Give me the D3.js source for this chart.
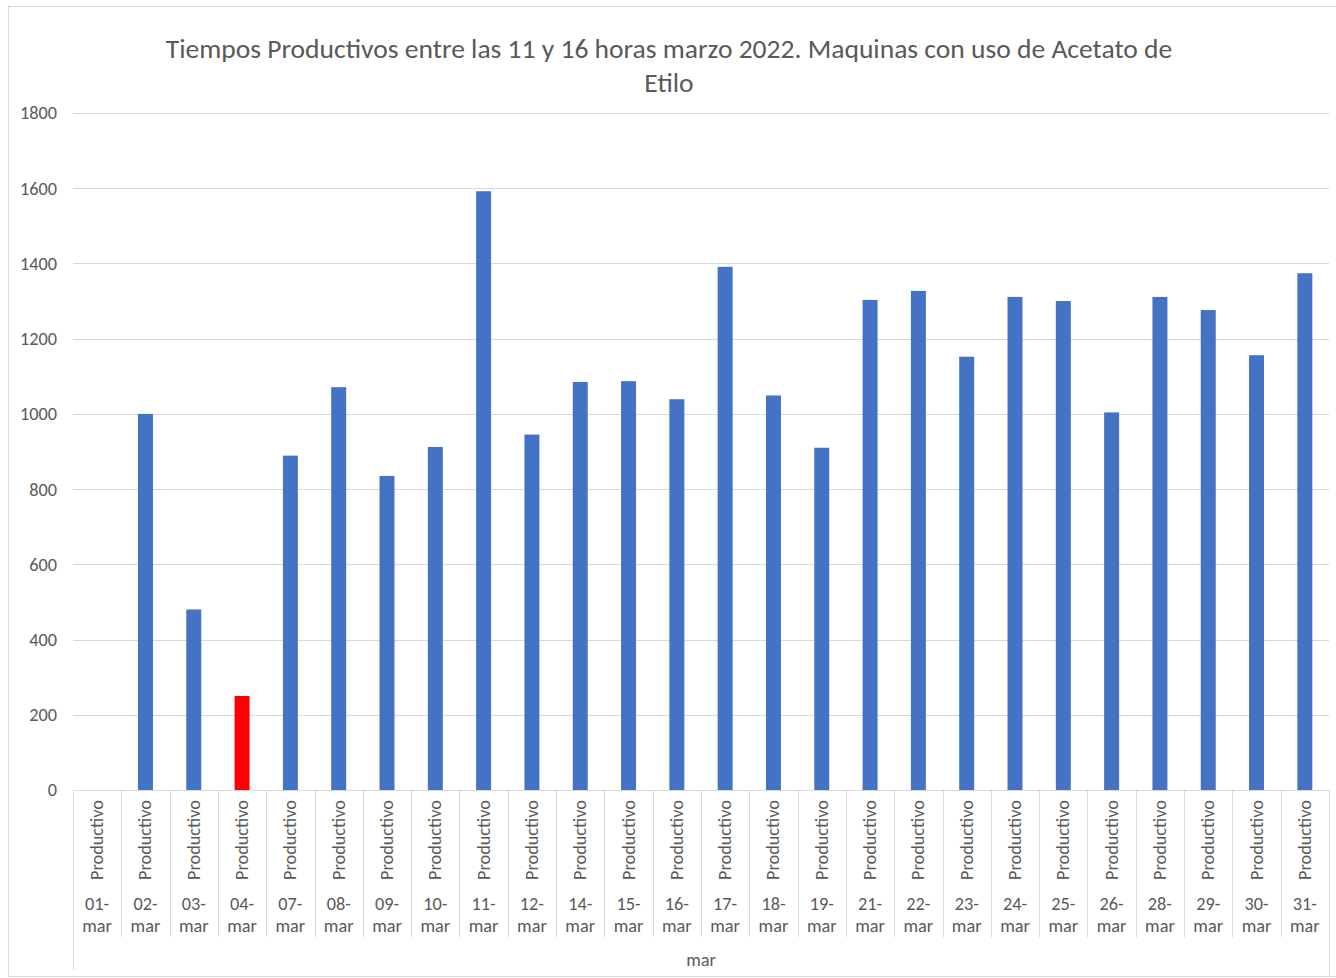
<!DOCTYPE html>
<html><head><meta charset="utf-8">
<script src="https://cdn.jsdelivr.net/npm/d3@7"></script>
<style>body{margin:0;background:#fff}svg{display:block}</style>
</head><body>
<svg id="c" width="1336" height="978"></svg>
<script>
const categories = ["01-mar","02-mar","03-mar","04-mar","07-mar","08-mar","09-mar","10-mar","11-mar","12-mar","14-mar","15-mar","16-mar","17-mar","18-mar","19-mar","21-mar","22-mar","23-mar","24-mar","25-mar","26-mar","28-mar","29-mar","30-mar","31-mar"];
const values = [0,1000,480,250,889,1071,835,912,1592,945,1085,1087,1039,1391,1049,910,1303,1327,1152,1311,1300,1004,1311,1276,1156,1374];
const highlight = ["04-mar"];
const subLabel = "Productivo";
const groupLabel = "mar";
const yTicks = [0,200,400,600,800,1000,1200,1400,1600,1800];
const titleLines = ["Tiempos Productivos entre las 11 y 16 horas marzo 2022. Maquinas con uso de Acetato de","Etilo"];

const svg = d3.select("#c");
const font = "Carlito, 'Open Sans', 'Liberation Sans', sans-serif";
const txt = "#595959", grid = "#d9d9d9";
const L = 73, R = 1329, T = 113, B = 790;

// measure font size so "Productivo" is ~80px long
const probe = svg.append("text").attr("font-family",font).attr("font-size",20).text(subLabel);
const fsS = 20*80/probe.node().getComputedTextLength();
probe.remove();

// outer border
svg.append("rect").attr("x",8.5).attr("y",6.5).attr("width",1340).attr("height",970)
  .attr("fill","none").attr("stroke","#d9d9d9");

const x = d3.scaleBand().domain(categories).range([L,R]).paddingInner(0.69).paddingOuter(0.345);
const xc = d3.scaleBand().domain(categories).range([L,R]);
const y = d3.scaleLinear().domain([0,1800]).range([B,T]);

// gridlines
svg.append("g").selectAll("line").data(yTicks).join("line")
  .attr("x1",L).attr("x2",R).attr("y1",d=>Math.round(y(d))+0.5).attr("y2",d=>Math.round(y(d))+0.5)
  .attr("stroke",grid).attr("stroke-width",1);

// y labels
svg.append("g").selectAll("text").data(yTicks).join("text")
  .attr("x",57).attr("y",d=>y(d)).attr("dy","0.35em").attr("text-anchor","end")
  .attr("font-family",font).attr("font-size",fsS).attr("fill",txt).text(d=>d);

// bars
svg.append("g").selectAll("rect").data(categories).join("rect")
  .attr("x",d=>x(d)).attr("width",x.bandwidth())
  .attr("y",(d,i)=>y(values[i])).attr("height",(d,i)=>B-y(values[i]))
  .attr("fill",d=>highlight.includes(d)?"#ff0000":"#4472c4");

// category separators
const seps = categories.map(c=>xc(c)).concat([R]);
svg.append("g").selectAll("line").data(seps).join("line")
  .attr("x1",d=>Math.round(d)+0.5).attr("x2",d=>Math.round(d)+0.5)
  .attr("y1",B).attr("y2",(d,i)=> i===0 ? 970 : (i===seps.length-1 ? 976 : 937))
  .attr("stroke",grid);

// sub labels (rotated)
svg.append("g").selectAll("text").data(categories).join("text")
  .attr("transform",d=>`translate(${xc(d)+xc.bandwidth()/2+6},840) rotate(-90)`)
  .attr("text-anchor","middle").attr("font-family",font).attr("font-size",fsS).attr("fill",txt)
  .text(subLabel);

// date labels
const dl = svg.append("g").selectAll("text").data(categories).join("text")
  .attr("text-anchor","middle").attr("font-family",font).attr("font-size",fsS).attr("fill",txt);
dl.append("tspan").attr("x",d=>xc(d)+xc.bandwidth()/2).attr("y",910).text(d=>d.split("-")[0]+"-");
dl.append("tspan").attr("x",d=>xc(d)+xc.bandwidth()/2).attr("y",932).text(d=>d.split("-")[1]);

// group label
svg.append("text").attr("x",(L+R)/2).attr("y",966).attr("text-anchor","middle")
  .attr("font-family",font).attr("font-size",fsS).attr("fill",txt).text(groupLabel);

// title
const tt = svg.append("g");
tt.selectAll("text").data(titleLines).join("text")
  .attr("x",669).attr("y",(d,i)=>58+i*34).attr("text-anchor","middle")
  .attr("font-family",font).attr("font-size",22).attr("fill",txt).text(d=>d);
const w0 = tt.select("text").node().getComputedTextLength();
const fs = 22*1007/w0;
tt.selectAll("text").attr("font-size",fs);
</script>
</body></html>
